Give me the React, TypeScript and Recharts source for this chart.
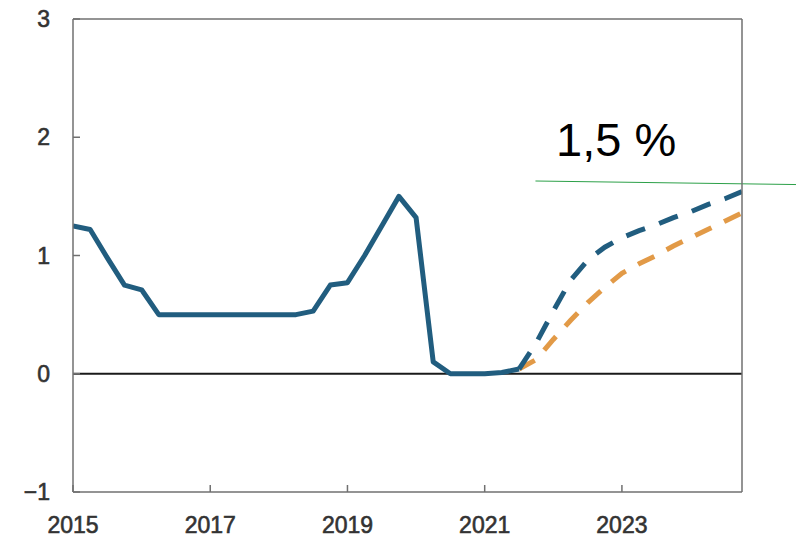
import { LineChart, Line, XAxis, YAxis, ReferenceLine } from 'recharts'

// quarterly points, plotted at the start of each quarter
const quarters = [
  2015, 2015.25, 2015.5, 2015.75,
  2016, 2016.25, 2016.5, 2016.75,
  2017, 2017.25, 2017.5, 2017.75,
  2018, 2018.25, 2018.5, 2018.75,
  2019, 2019.25, 2019.5, 2019.75,
  2020, 2020.25, 2020.5, 2020.75,
  2021, 2021.25, 2021.5, 2021.75,
  2022, 2022.25, 2022.5, 2022.75,
  2023, 2023.25, 2023.5, 2023.75,
  2024, 2024.25, 2024.5, 2024.75,
]

// policy rate, history up to 2021 Q3
const rateHistory = [
  1.25, 1.22, 0.98, 0.75,
  0.71, 0.5, 0.5, 0.5,
  0.5, 0.5, 0.5, 0.5,
  0.5, 0.5, 0.53, 0.75,
  0.77, 1.0, 1.25, 1.5,
  1.32, 0.1, 0.0, 0.0,
  0.0, 0.01, 0.04,
]

// forecasts from 2021 Q3
const forecastNew = [0.04, 0.26, 0.53, 0.79, 0.96, 1.07, 1.15, 1.21, 1.26, 1.32, 1.37, 1.43, 1.48, 1.54]
const forecastOld = [0.04, 0.12, 0.29, 0.45, 0.6, 0.73, 0.85, 0.93, 1.0, 1.08, 1.15, 1.22, 1.29, 1.36]

const xTicks = [2015, 2017, 2019, 2021, 2023]
const yTicks = [-1, 0, 1, 2, 3]

const histLen = rateHistory.length
const data = quarters.map((t, i) => ({
  t,
  hist: i < histLen ? rateHistory[i] : null,
  newPath: i >= histLen - 1 ? forecastNew[i - (histLen - 1)] : null,
  oldPath: i >= histLen - 1 ? forecastOld[i - (histLen - 1)] : null,
}))

const BLUE = '#215d7f'
const ORANGE = '#e29a47'
const FRAME = '#707070'
const LABEL = '#333'
const FONT = 'Liberation Sans, Arial, Helvetica, sans-serif'

const tickStyle = { fill: LABEL, fontSize: 23, fontFamily: FONT, stroke: LABEL, strokeWidth: 0.6 }

const fmtY = (v: number) => (v < 0 ? '\u2212' + Math.abs(v) : String(v))

export default function App() {
  return (
    <div style={{ position: 'absolute', left: 0, top: 0, width: 796, height: 537, background: '#fff', fontFamily: FONT }}>
      <LineChart width={796} height={537} data={data} margin={{ top: 19, right: 0, bottom: 0, left: 0 }}>
        <XAxis
          dataKey="t"
          type="number"
          domain={[2015, 2024.75]}
          ticks={xTicks}
          height={45}
          stroke={FRAME}
          strokeWidth={1.5}
          tickSize={-7}
          tickMargin={32}
          tick={tickStyle}
          allowDataOverflow
        />
        <YAxis
          yAxisId="l"
          domain={[-1, 3]}
          ticks={yTicks}
          width={73}
          stroke={FRAME}
          strokeWidth={1.5}
          tickSize={-7}
          tickMargin={30}
          tickFormatter={fmtY}
          tick={tickStyle}
        />
        <YAxis
          yAxisId="r"
          orientation="right"
          domain={[-1, 3]}
          ticks={yTicks}
          width={54}
          stroke={FRAME}
          strokeWidth={1.5}
          tickSize={-7}
          tickMargin={28}
          tickFormatter={fmtY}
          tick={tickStyle}
        />
        <ReferenceLine yAxisId="l" y={3} stroke={FRAME} strokeWidth={1.5} />
        <ReferenceLine yAxisId="l" y={0} stroke="#1a1a1a" strokeWidth={2} />
        <Line
          yAxisId="l"
          dataKey="oldPath"
          stroke={ORANGE}
          strokeWidth={5}
          strokeDasharray="18 14"
          dot={false}
          connectNulls={false}
          isAnimationActive={false}
        />
        <Line
          yAxisId="l"
          dataKey="newPath"
          stroke={BLUE}
          strokeWidth={5}
          strokeDasharray="20 15"
          dot={false}
          connectNulls={false}
          isAnimationActive={false}
        />
        <Line
          yAxisId="l"
          dataKey="hist"
          stroke={BLUE}
          strokeWidth={5}
          strokeLinejoin="round"
          dot={false}
          connectNulls={false}
          isAnimationActive={false}
        />
        <ReferenceLine
          yAxisId="l"
          segment={[{ x: 2021.74, y: 1.63 }, { x: 2025.54, y: 1.6 }]}
          stroke="#2ca048"
          strokeWidth={1}
          ifOverflow="visible"
        />
      </LineChart>
      <div style={{ position: 'absolute', left: 556, top: 114, fontSize: 47, lineHeight: '52px', color: '#000', fontFamily: FONT }}>
        1,5 %
      </div>
    </div>
  )
}
